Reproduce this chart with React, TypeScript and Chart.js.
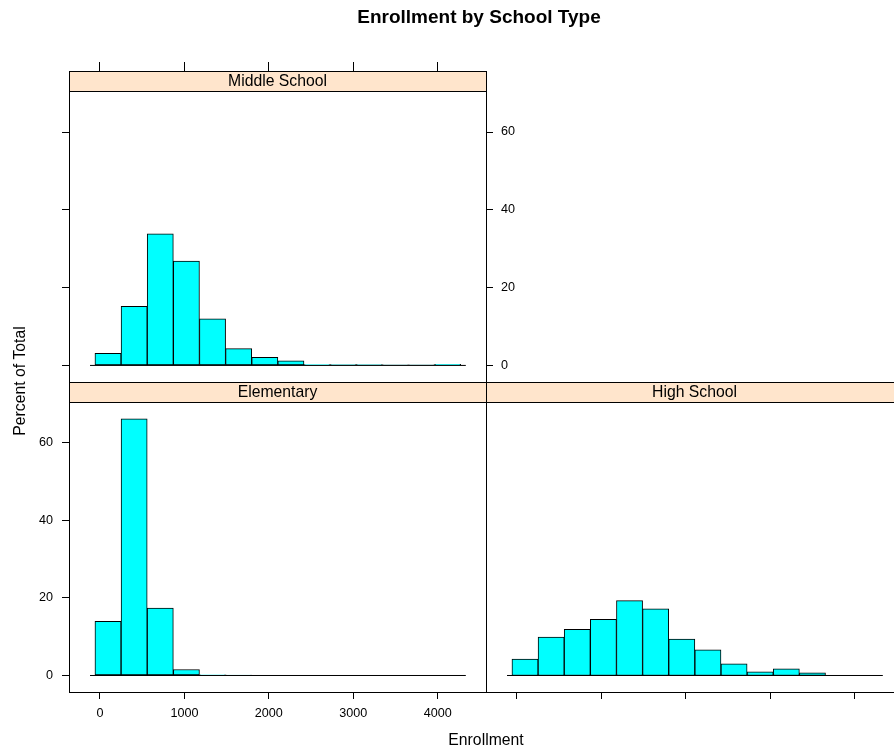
import React, { useEffect, useRef } from 'react';
import { Chart, registerables } from 'chart.js';

Chart.register(...registerables);

// ---- data ----
const breaks = [-60, 250, 559, 869, 1178, 1488, 1797, 2107, 2416, 2726, 3035, 3345, 3654, 3964, 4273];
const middleSchool = [3.1, 15.2, 33.8, 26.8, 12.0, 4.3, 2.07, 1.2, 0.25, 0.2, 0.2, 0.1, 0.1, 0.3];
const elementary = [14.0, 66.2, 17.4, 1.55, 0.15, 0.1, 0, 0, 0, 0, 0, 0, 0, 0];
const highSchool = [4.2, 9.9, 11.9, 14.5, 19.3, 17.2, 9.4, 6.6, 3.0, 0.95, 1.7, 0.69, 0, 0];
const xTicks = [0, 1000, 2000, 3000, 4000];
const yTicks = [0, 20, 40, 60];
const xRange = [-367, 4572];
const yRange = [-4.26, 70.8];
const baselineSpan = [-118, 4333];

const TITLE = 'Enrollment by School Type';
const XLAB = 'Enrollment';
const YLAB = 'Percent of Total';

const FONT = '"Liberation Sans", Arial, Helvetica, sans-serif';
const STRIP_H = 19.5;
const CANVAS_W = 903;
const CANVAS_H = 748;

Chart.defaults.font.family = FONT;

const tickFont = { family: FONT, size: 12.6 };

const panelPlugin = {
  id: 'panel',
  afterDraw(chart: any, _args: any, opts: any) {
    const { ctx, chartArea: a } = chart;
    const left = Math.round(a.left) + 0.5;
    const w = Math.round(a.right - a.left);
    const top = Math.round(a.top - STRIP_H) + 0.5;
    const sh = Math.round(STRIP_H);
    const bottom = Math.round(a.bottom) + 0.5;
    ctx.save();
    ctx.fillStyle = '#FFE5CC';
    ctx.fillRect(left, top, w, sh);
    ctx.strokeStyle = '#000';
    ctx.lineWidth = 1;
    ctx.strokeRect(left, top, w, sh);
    ctx.strokeRect(left, top, w, bottom - top);
    ctx.fillStyle = '#000';
    ctx.font = `15.75px ${FONT}`;
    ctx.textAlign = 'center';
    ctx.textBaseline = 'alphabetic';
    ctx.fillText(opts.label, (a.left + a.right) / 2, a.top - STRIP_H + 15.6);
    if (opts.frameTexts) {
      ctx.font = `bold 19px ${FONT}`;
      ctx.fillText(TITLE, 479, 23);
      ctx.font = `15.75px ${FONT}`;
      ctx.fillText(XLAB, 486, 745);
      ctx.translate(25, 381);
      ctx.rotate(-Math.PI / 2);
      ctx.fillText(YLAB, 0, 0);
    }
    ctx.restore();
  },
};

function xAxis(position: string, showLabels: boolean, tickLength: number, size: number) {
  return {
    type: 'linear',
    position,
    min: xRange[0],
    max: xRange[1],
    offset: false,
    afterBuildTicks: (s: any) => {
      s.ticks = xTicks.map((v) => ({ value: v }));
    },
    afterFit: (s: any) => {
      s.height = size;
    },
    grid: { offset: false, drawOnChartArea: false, drawTicks: true, tickLength, color: '#000', lineWidth: 1 },
    border: { display: false },
    ticks: {
      callback: showLabels ? (v: any) => String(v) : () => '',
      font: tickFont,
      color: '#000',
      padding: 7,
      maxRotation: 0,
      autoSkip: false,
    },
  };
}

function yAxis(position: string, showLabels: boolean, size: number, display = true) {
  return {
    type: 'linear',
    position,
    display,
    min: yRange[0],
    max: yRange[1],
    afterBuildTicks: (s: any) => {
      s.ticks = yTicks.map((v) => ({ value: v }));
    },
    afterFit: (s: any) => {
      s.width = size;
    },
    grid: { drawOnChartArea: false, drawTicks: true, tickLength: 7, color: '#000', lineWidth: 1 },
    border: { display: false },
    ticks: {
      callback: showLabels ? (v: any) => String(v) : () => '',
      font: tickFont,
      color: '#000',
      padding: position === 'left' ? 9 : 8,
      autoSkip: false,
    },
  };
}

function makeConfig(values: number[], label: string, padding: any, scales: any, frameTexts = false) {
  const centers = values.map((_, i) => (breaks[i] + breaks[i + 1]) / 2);
  return {
    type: 'bar',
    data: {
      datasets: [
        {
          type: 'line',
          data: baselineSpan.map((x) => ({ x, y: 0 })),
          borderColor: '#000',
          borderWidth: 1,
          pointRadius: 0,
          order: 0,
        },
        {
          type: 'bar',
          data: values.map((v, i) => ({ x: centers[i], y: v })),
          backgroundColor: '#00FFFF',
          borderColor: '#000',
          borderWidth: 1,
          borderSkipped: false,
          barPercentage: 1,
          categoryPercentage: 1,
          order: 1,
        },
      ],
    },
    options: {
      responsive: false,
      animation: false,
      devicePixelRatio: 1,
      layout: { padding },
      scales,
      plugins: {
        legend: { display: false },
        tooltip: { enabled: false },
        title: { display: false },
        panel: { label, frameTexts },
      },
    },
    plugins: [panelPlugin],
  };
}

export default function App() {
  const refMid = useRef<HTMLCanvasElement>(null);
  const refEle = useRef<HTMLCanvasElement>(null);
  const refHigh = useRef<HTMLCanvasElement>(null);

  useEffect(() => {
    const charts: Chart[] = [];
    charts.push(
      new Chart(
        refMid.current as HTMLCanvasElement,
        makeConfig(
          middleSchool,
          'Middle School',
          { left: 0, top: 62, right: 0, bottom: 366 },
          {
            x: xAxis('top', false, 28, 28),
            y: yAxis('left', false, 69),
            yR: yAxis('right', true, 417),
          }
        ) as any
      )
    );
    charts.push(
      new Chart(
        refEle.current as HTMLCanvasElement,
        makeConfig(
          elementary,
          'Elementary',
          { left: 0, top: 401, right: 417, bottom: 0 },
          {
            x: xAxis('bottom', true, 7, 56),
            y: yAxis('left', true, 69),
          },
          true
        ) as any
      )
    );
    charts.push(
      new Chart(
        refHigh.current as HTMLCanvasElement,
        makeConfig(
          highSchool,
          'High School',
          { left: 486, top: 401, right: 0, bottom: 0 },
          {
            x: xAxis('bottom', false, 7, 56),
            y: yAxis('left', false, 0, false),
          }
        ) as any
      )
    );
    return () => charts.forEach((c) => c.destroy());
  }, []);

  const cs: React.CSSProperties = { position: 'absolute', left: 0, top: 0 };
  return (
    <div
      style={{
        position: 'fixed',
        left: 0,
        top: 0,
        width: 894,
        height: 748,
        overflow: 'hidden',
        background: '#fff',
      }}
    >
      <canvas ref={refMid} width={CANVAS_W} height={CANVAS_H} style={cs} />
      <canvas ref={refEle} width={CANVAS_W} height={CANVAS_H} style={cs} />
      <canvas ref={refHigh} width={CANVAS_W} height={CANVAS_H} style={cs} />
    </div>
  );
}
